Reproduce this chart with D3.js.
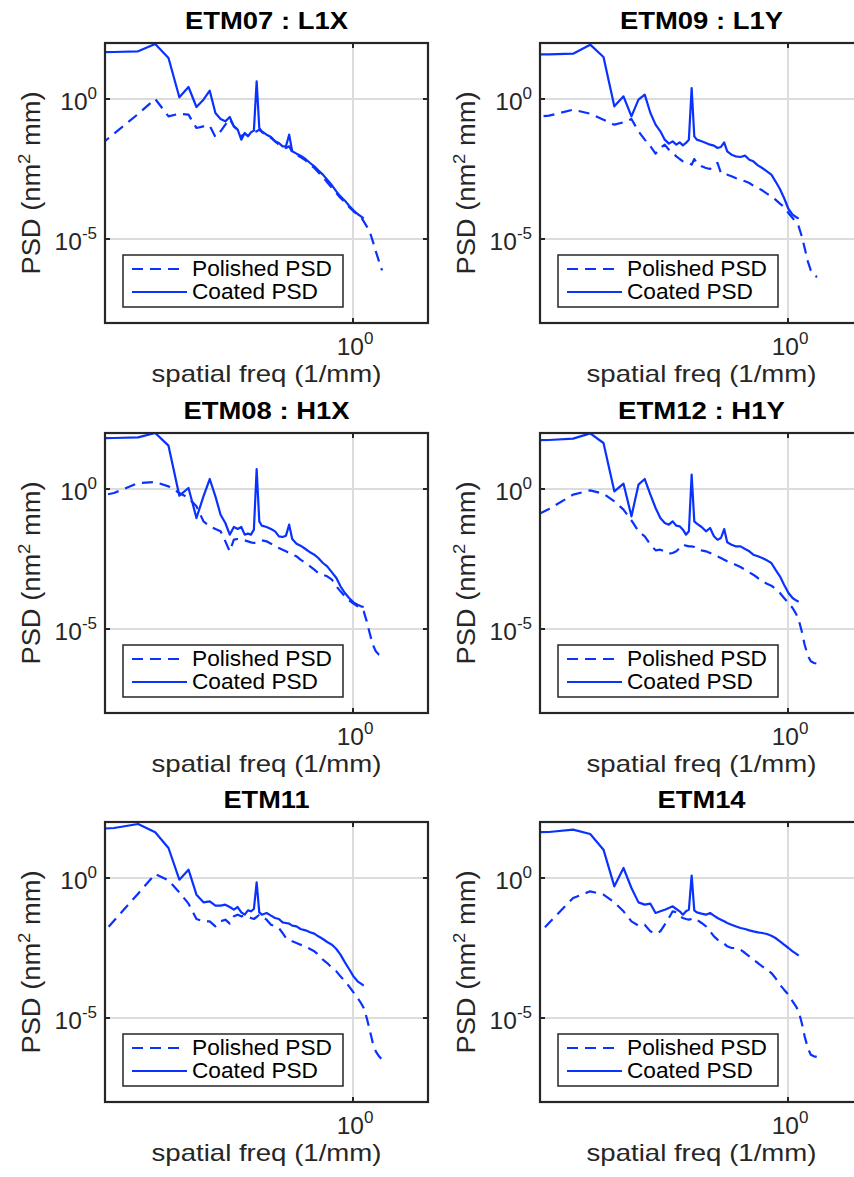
<!DOCTYPE html>
<html><head><meta charset="utf-8">
<script src="https://cdn.jsdelivr.net/npm/d3@7"></script>
<style>
html,body{margin:0;padding:0;background:#fff;overflow:hidden;}
text{font-family:"Liberation Sans",Arial,Helvetica,sans-serif;}
</style></head>
<body>
<svg id="chart" width="854" height="1177"></svg>
<script>
// spatial frequency grid (1/mm)
const freq = [0.009,0.018,0.027,0.036,0.045,0.054,0.063,0.072,0.081,0.090,0.099,0.108,0.117,0.126,0.135,0.144,0.153,0.162,0.171,0.180,0.189,0.198,0.207,0.216,0.234,0.252,0.270,0.288,0.306,0.324,0.342,0.360,0.387,0.414,0.450,0.486,0.522,0.558,0.603,0.648,0.702,0.756,0.810,0.873,0.936,1.008,1.080,1.143,1.197,1.260,1.323,1.395,1.467,1.548,1.629];

// log10 of PSD (nm^2 mm)
const etm07Polished = [-2.452,-1.238,-0.536,0,-0.619,-0.524,-0.560,-1.036,-0.976,-0.952,-1.357,-1.155,-0.917,-0.714,-0.976,-1.095,-1.333,-1.238,-1.310,-1.214,-1.190,-1.155,-1.095,-1.179,-1.274,-1.393,-1.512,-1.631,-1.690,-1.750,-1.690,-1.905,-1.988,-2.071,-2.190,-2.345,-2.464,-2.619,-2.786,-2.976,-3.179,-3.357,-3.536,-3.679,-3.857,-4.012,-4.131,-4.214,-4.369,-4.548,-4.726,-5.083,-5.440,-5.798,-6.119];
const etm07Coated = [1.667,1.679,1.702,1.964,1.464,0.060,0.429,-0.286,-0.024,0.298,-0.500,-0.714,-0.798,-0.643,-0.976,-1.095,-1.452,-1.214,-1.333,-1.190,-1.131,0.631,-1.036,-1.155,-1.274,-1.357,-1.512,-1.571,-1.690,-1.690,-1.274,-1.869,-1.952,-2.024,-2.143,-2.286,-2.405,-2.548,-2.702,-2.881,-3.083,-3.298,-3.476,-3.631,-3.810,-3.976,-4.107,-4.190,-4.262];

const etm09Polished = [-0.738,-0.595,-0.381,-0.524,-0.738,-0.917,-0.833,-0.714,-1.155,-1.452,-1.690,-1.952,-1.750,-1.631,-1.810,-1.929,-2.048,-2.143,-2.226,-2.262,-2.286,-2.345,-2.143,-2.286,-2.405,-2.464,-2.500,-2.345,-2.286,-2.643,-2.702,-2.702,-2.762,-2.821,-2.881,-2.940,-3.000,-3.095,-3.179,-3.262,-3.381,-3.476,-3.595,-3.738,-3.857,-4.071,-4.250,-4.405,-4.548,-4.905,-5.321,-5.798,-6.119,-6.286,-6.357];
const etm09Coated = [1.583,1.595,1.619,1.940,1.500,-0.262,0.095,-0.619,-0.024,0.155,-0.500,-0.917,-1.155,-1.452,-1.595,-1.512,-1.631,-1.548,-1.655,-1.571,-1.452,0.393,-1.333,-1.452,-1.512,-1.571,-1.631,-1.667,-1.750,-1.714,-1.548,-1.869,-1.988,-2.048,-2.071,-2.024,-2.167,-2.226,-2.369,-2.464,-2.583,-2.702,-2.940,-3.214,-3.536,-3.929,-4.131,-4.214,-4.274];

const etm08Polished = [-0.440,-0.143,0.214,0.250,0.095,-0.143,-0.321,-0.619,-1.155,-1.333,-1.429,-1.512,-1.869,-2.226,-1.810,-1.786,-1.810,-1.833,-1.869,-1.905,-1.929,-1.905,-1.869,-1.833,-1.869,-1.952,-2.048,-2.107,-2.167,-2.226,-2.286,-2.345,-2.405,-2.524,-2.643,-2.762,-2.881,-3.000,-3.060,-3.119,-3.238,-3.476,-3.655,-3.833,-3.976,-4.095,-4.190,-4.250,-4.369,-4.726,-5.143,-5.560,-5.798,-5.917,-5.940];
const etm08Coated = [1.810,1.821,1.845,2.000,1.548,-0.238,0.036,-1.036,-0.262,0.357,-0.262,-0.917,-1.214,-1.631,-1.357,-1.429,-1.357,-1.631,-1.595,-1.631,-1.452,0.714,-1.155,-1.310,-1.357,-1.429,-1.512,-1.690,-1.714,-1.667,-1.274,-1.786,-1.952,-2.024,-2.143,-2.262,-2.345,-2.464,-2.643,-2.762,-2.976,-3.179,-3.476,-3.714,-3.893,-4.048,-4.131,-4.190,-4.214];

const etm12Polished = [-1.452,-0.714,-0.202,-0.048,-0.167,-0.440,-0.738,-1.119,-1.512,-1.690,-1.988,-2.190,-2.167,-2.226,-2.310,-2.286,-2.226,-2.107,-1.988,-2.024,-2.048,-2.048,-2.071,-2.143,-2.190,-2.226,-2.286,-2.345,-2.405,-2.464,-2.524,-2.583,-2.643,-2.702,-2.786,-2.881,-2.976,-3.060,-3.179,-3.298,-3.381,-3.452,-3.571,-3.714,-3.893,-4.071,-4.250,-4.452,-4.667,-5.083,-5.560,-5.952,-6.155,-6.214,-6.238];
const etm12Coated = [1.738,1.750,1.798,1.988,1.643,-0.083,0.190,-0.976,0.155,0.357,-0.202,-0.679,-1.036,-1.214,-1.274,-1.155,-1.310,-1.333,-1.452,-1.631,-1.512,0.512,-1.155,-1.238,-1.357,-1.512,-1.393,-1.690,-1.810,-1.750,-1.429,-1.905,-1.988,-2.048,-2.048,-2.143,-2.226,-2.345,-2.405,-2.464,-2.548,-2.643,-2.881,-3.119,-3.417,-3.714,-3.893,-3.976,-4.024];

const etm11Polished = [-3.179,-1.524,-0.560,0.143,-0.083,-0.512,-0.917,-1.464,-1.548,-1.548,-1.726,-1.548,-1.488,-1.631,-1.369,-1.310,-1.369,-1.345,-1.393,-1.429,-1.464,-1.393,-1.310,-1.369,-1.488,-1.667,-1.726,-1.786,-1.964,-2.143,-2.202,-2.262,-2.321,-2.381,-2.440,-2.536,-2.619,-2.738,-2.917,-3.036,-3.214,-3.333,-3.512,-3.690,-3.869,-4.083,-4.286,-4.464,-4.643,-5.000,-5.417,-5.893,-6.190,-6.369,-6.488];
const etm11Coated = [1.702,1.786,1.929,1.631,1.071,-0.060,0.298,-0.595,-0.869,-0.833,-0.988,-0.988,-0.952,-1.036,-1.131,-1.036,-1.226,-1.310,-1.155,-1.190,-1.107,-0.155,-1.226,-1.310,-1.250,-1.345,-1.429,-1.464,-1.583,-1.607,-1.631,-1.702,-1.726,-1.821,-1.869,-1.940,-1.988,-2.083,-2.179,-2.286,-2.381,-2.536,-2.738,-3.012,-3.250,-3.512,-3.690,-3.774,-3.845];

const etm14Polished = [-3.155,-1.607,-0.714,-0.476,-0.595,-0.869,-1.190,-1.548,-1.702,-1.667,-1.905,-1.988,-1.905,-1.667,-1.429,-1.190,-1.226,-1.369,-1.429,-1.464,-1.488,-1.464,-1.429,-1.488,-1.607,-1.726,-1.905,-2.083,-2.202,-2.262,-2.345,-2.440,-2.500,-2.500,-2.560,-2.679,-2.798,-2.917,-3.036,-3.155,-3.274,-3.393,-3.571,-3.810,-3.988,-4.167,-4.405,-4.583,-4.762,-5.179,-5.655,-6.071,-6.310,-6.369,-6.393];
const etm14Coated = [1.607,1.643,1.726,1.571,1.012,-0.298,0.357,-0.357,-0.870,-0.952,-0.917,-1.250,-1.190,-1.131,-1.071,-1.012,-1.107,-1.190,-1.310,-1.190,-1.131,0.083,-1.155,-1.226,-1.274,-1.310,-1.250,-1.345,-1.429,-1.488,-1.548,-1.607,-1.667,-1.726,-1.786,-1.821,-1.869,-1.905,-1.940,-1.964,-2.000,-2.060,-2.143,-2.262,-2.381,-2.500,-2.619,-2.702,-2.774];

const titles = ["ETM07 : L1X","ETM09 : L1Y","ETM08 : H1X","ETM12 : H1Y","ETM11","ETM14"];
const titleWidths = [163,163,166,167,86,88];
const polishedSeries = [etm07Polished,etm09Polished,etm08Polished,etm12Polished,etm11Polished,etm14Polished];
const coatedSeries = [etm07Coated,etm09Coated,etm08Coated,etm12Coated,etm11Coated,etm14Coated];
const legendLabels = ["Polished PSD","Coated PSD"];
const xTickValues = [1];
const yTickValues = [1e-5, 1];

const colX = [105, 540];
const rowY = [43, 433, 822];
const W = 323, H = 280;
const blue = "#0a32ff";
const axisCol = "#262626";

const svg = d3.select("#chart");
svg.append("rect").attr("width",854).attr("height",1177).attr("fill","#fff");

const x = d3.scaleLog().domain([0.01548, 3.527]).range([0, W]);
const y = d3.scaleLog().domain([1e-8, 1e2]).range([H, 0]);
const line = d3.line().x(d => x(d[0])).y(d => y(d[1]));

function expLabel(sel, base, exp) {
  sel.append("tspan").text(base);
  sel.append("tspan").attr("dy", -11).attr("font-size", 17).text(exp);
}

titles.forEach((t, i) => {
  const col = i % 2, row = Math.floor(i / 2);
  const g = svg.append("g").attr("transform", `translate(${colX[col]},${rowY[row]})`);
  const cid = "clip" + i;
  g.append("clipPath").attr("id", cid).append("rect").attr("width", W).attr("height", H);

  // grid
  xTickValues.forEach(v => g.append("line").attr("x1", x(v)).attr("x2", x(v)).attr("y1", 0).attr("y2", H)
    .attr("stroke", "#dcdcdc").attr("stroke-width", 2));
  yTickValues.forEach(v => g.append("line").attr("x1", 0).attr("x2", W).attr("y1", y(v)).attr("y2", y(v))
    .attr("stroke", "#dcdcdc").attr("stroke-width", 2));

  const pol = freq.map((f, k) => [f, Math.pow(10, polishedSeries[i][k])]);
  const coa = coatedSeries[i].map((v, k) => [freq[k], Math.pow(10, v)]);
  const lines = g.append("g").attr("clip-path", `url(#${cid})`);
  lines.append("path").datum(pol).attr("d", line).attr("fill", "none").attr("stroke", blue)
    .attr("stroke-width", 2.2).attr("stroke-dasharray", "11,7").attr("stroke-linejoin", "round");
  lines.append("path").datum(coa).attr("d", line).attr("fill", "none").attr("stroke", blue)
    .attr("stroke-width", 2.2).attr("stroke-linejoin", "round");

  // ticks
  xTickValues.forEach(v => {
    g.append("line").attr("x1", x(v)).attr("x2", x(v)).attr("y1", H).attr("y2", H - 5).attr("stroke", axisCol).attr("stroke-width", 2);
    g.append("line").attr("x1", x(v)).attr("x2", x(v)).attr("y1", 0).attr("y2", 5).attr("stroke", axisCol).attr("stroke-width", 2);
    const tx = g.append("text").attr("x", x(v) + 2).attr("y", H + 32).attr("text-anchor", "middle")
      .attr("font-size", 24.5).attr("fill", axisCol);
    expLabel(tx, "10", String(Math.round(Math.log10(v))));
  });
  yTickValues.forEach(v => {
    g.append("line").attr("x1", 0).attr("x2", 5).attr("y1", y(v)).attr("y2", y(v)).attr("stroke", axisCol).attr("stroke-width", 2);
    g.append("line").attr("x1", W).attr("x2", W - 5).attr("y1", y(v)).attr("y2", y(v)).attr("stroke", axisCol).attr("stroke-width", 2);
    const ty = g.append("text").attr("x", -8).attr("y", y(v) + 11).attr("text-anchor", "end")
      .attr("font-size", 24.5).attr("fill", axisCol);
    expLabel(ty, "10", String(Math.round(Math.log10(v))));
  });

  // box
  g.append("rect").attr("width", W).attr("height", H).attr("fill", "none").attr("stroke", axisCol).attr("stroke-width", 2.2);

  // title
  g.append("text").attr("x", W / 2).attr("y", -14).attr("text-anchor", "middle").attr("font-size", 24)
    .attr("font-weight", "bold").attr("fill", "#000")
    .attr("textLength", titleWidths[i]).attr("lengthAdjust", "spacingAndGlyphs").text(t);

  // x label
  g.append("text").attr("x", W / 2).attr("y", H + 59).attr("text-anchor", "middle").attr("font-size", 24)
    .attr("fill", axisCol).attr("textLength", 230).attr("lengthAdjust", "spacingAndGlyphs").text("spatial freq (1/mm)");

  // y label
  const yl = g.append("text").attr("transform", `translate(-65,${H / 2}) rotate(-90)`).attr("text-anchor", "middle")
    .attr("font-size", 25).attr("fill", axisCol).attr("textLength", 183).attr("lengthAdjust", "spacingAndGlyphs");
  yl.append("tspan").text("PSD (nm");
  yl.append("tspan").attr("dy", -10).attr("font-size", 17).text("2");
  yl.append("tspan").attr("dy", 10).text(" mm)");

  // legend
  const lg = g.append("g").attr("transform", `translate(18,212)`);
  lg.append("rect").attr("width", 220).attr("height", 52).attr("fill", "#fff").attr("stroke", axisCol).attr("stroke-width", 1.5);
  lg.append("line").attr("x1", 9).attr("x2", 62).attr("y1", 14).attr("y2", 14).attr("stroke", blue)
    .attr("stroke-width", 2.2).attr("stroke-dasharray", "11,7");
  lg.append("line").attr("x1", 9).attr("x2", 64).attr("y1", 37).attr("y2", 37).attr("stroke", blue).attr("stroke-width", 2.2);
  lg.append("text").attr("x", 69).attr("y", 21).attr("font-size", 22).attr("fill", "#000")
    .attr("textLength", 140).attr("lengthAdjust", "spacingAndGlyphs").text(legendLabels[0]);
  lg.append("text").attr("x", 69).attr("y", 44).attr("font-size", 22).attr("fill", "#000")
    .attr("textLength", 126).attr("lengthAdjust", "spacingAndGlyphs").text(legendLabels[1]);
});
</script>
</body></html>
